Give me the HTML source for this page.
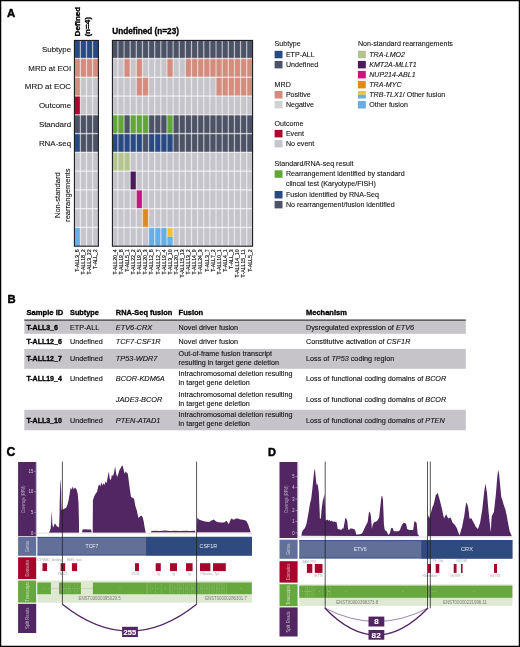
<!DOCTYPE html>
<html><head><meta charset="utf-8"><title>Figure</title>
<style>html,body{margin:0;padding:0;background:#fff;width:520px;height:647px;overflow:hidden;position:relative;font-family:'Liberation Sans', sans-serif}</style>
</head><body>
<svg width="520" height="647" viewBox="0 0 520 647" style="position:absolute;left:0;top:0;font-family:'Liberation Sans', sans-serif;will-change:transform">
<style>.k{fill:#141414;stroke:#141414;stroke-width:0.1px}.kb{fill:#111;stroke:#111;stroke-width:0.12px}.L{fill:#000;stroke:#000;stroke-width:0.45px}.ks{fill:#1a1a1a;stroke:#1a1a1a;stroke-width:0.18px}.bb{fill:#000;stroke:#000;stroke-width:0.32px}</style>
<rect x="0" y="0" width="520" height="647" fill="#fff"/>
<rect x="74.40" y="40.40" width="6.00" height="18.10" fill="#294983"/>
<rect x="74.40" y="58.50" width="6.00" height="18.77" fill="#d38c7e"/>
<rect x="74.40" y="77.27" width="6.00" height="18.77" fill="#d38c7e"/>
<rect x="74.40" y="96.04" width="6.00" height="18.77" fill="#ad0632"/>
<rect x="74.40" y="114.81" width="6.00" height="18.77" fill="#4d5366"/>
<rect x="74.40" y="133.58" width="6.00" height="18.77" fill="#294983"/>
<rect x="74.40" y="152.35" width="6.00" height="18.77" fill="#c6c5cb"/>
<rect x="74.40" y="171.12" width="6.00" height="18.77" fill="#c6c5cb"/>
<rect x="74.40" y="189.89" width="6.00" height="18.77" fill="#c6c5cb"/>
<rect x="74.40" y="208.66" width="6.00" height="18.77" fill="#c6c5cb"/>
<rect x="74.40" y="227.43" width="6.00" height="18.77" fill="#68aee2"/>
<rect x="80.40" y="40.40" width="6.10" height="18.10" fill="#294983"/>
<rect x="80.40" y="58.50" width="6.10" height="18.77" fill="#d38c7e"/>
<rect x="80.40" y="77.27" width="6.10" height="18.77" fill="#c6c5cb"/>
<rect x="80.40" y="96.04" width="6.10" height="18.77" fill="#c6c5cb"/>
<rect x="80.40" y="114.81" width="6.10" height="18.77" fill="#4d5366"/>
<rect x="80.40" y="133.58" width="6.10" height="18.77" fill="#4d5366"/>
<rect x="80.40" y="152.35" width="6.10" height="18.77" fill="#c6c5cb"/>
<rect x="80.40" y="171.12" width="6.10" height="18.77" fill="#c6c5cb"/>
<rect x="80.40" y="189.89" width="6.10" height="18.77" fill="#c6c5cb"/>
<rect x="80.40" y="208.66" width="6.10" height="18.77" fill="#c6c5cb"/>
<rect x="80.40" y="227.43" width="6.10" height="18.77" fill="#c6c5cb"/>
<rect x="86.50" y="40.40" width="6.10" height="18.10" fill="#294983"/>
<rect x="86.50" y="58.50" width="6.10" height="18.77" fill="#d38c7e"/>
<rect x="86.50" y="77.27" width="6.10" height="18.77" fill="#c6c5cb"/>
<rect x="86.50" y="96.04" width="6.10" height="18.77" fill="#c6c5cb"/>
<rect x="86.50" y="114.81" width="6.10" height="18.77" fill="#4d5366"/>
<rect x="86.50" y="133.58" width="6.10" height="18.77" fill="#4d5366"/>
<rect x="86.50" y="152.35" width="6.10" height="18.77" fill="#c6c5cb"/>
<rect x="86.50" y="171.12" width="6.10" height="18.77" fill="#c6c5cb"/>
<rect x="86.50" y="189.89" width="6.10" height="18.77" fill="#c6c5cb"/>
<rect x="86.50" y="208.66" width="6.10" height="18.77" fill="#c6c5cb"/>
<rect x="86.50" y="227.43" width="6.10" height="18.77" fill="#c6c5cb"/>
<rect x="92.60" y="40.40" width="5.80" height="18.10" fill="#294983"/>
<rect x="92.60" y="58.50" width="5.80" height="18.77" fill="#d38c7e"/>
<rect x="92.60" y="77.27" width="5.80" height="18.77" fill="#c6c5cb"/>
<rect x="92.60" y="96.04" width="5.80" height="18.77" fill="#c6c5cb"/>
<rect x="92.60" y="114.81" width="5.80" height="18.77" fill="#4d5366"/>
<rect x="92.60" y="133.58" width="5.80" height="18.77" fill="#4d5366"/>
<rect x="92.60" y="152.35" width="5.80" height="18.77" fill="#c6c5cb"/>
<rect x="92.60" y="171.12" width="5.80" height="18.77" fill="#c6c5cb"/>
<rect x="92.60" y="189.89" width="5.80" height="18.77" fill="#c6c5cb"/>
<rect x="92.60" y="208.66" width="5.80" height="18.77" fill="#c6c5cb"/>
<rect x="92.60" y="227.43" width="5.80" height="18.77" fill="#c6c5cb"/>
<rect x="79.75" y="40.4" width="1.3" height="205.80" fill="#fff" opacity="0.5"/>
<rect x="85.85" y="40.4" width="1.3" height="205.80" fill="#fff" opacity="0.5"/>
<rect x="91.95" y="40.4" width="1.3" height="205.80" fill="#fff" opacity="0.5"/>
<rect x="74.40" y="57.80" width="24.00" height="1.4" fill="#fff" opacity="0.6"/>
<rect x="74.40" y="76.57" width="24.00" height="1.4" fill="#fff" opacity="0.6"/>
<rect x="74.40" y="95.34" width="24.00" height="1.4" fill="#fff" opacity="0.6"/>
<rect x="74.40" y="114.11" width="24.00" height="1.4" fill="#fff" opacity="0.6"/>
<rect x="74.40" y="132.88" width="24.00" height="1.4" fill="#fff" opacity="0.6"/>
<rect x="74.40" y="151.65" width="24.00" height="1.4" fill="#fff" opacity="0.6"/>
<rect x="74.40" y="170.42" width="24.00" height="1.4" fill="#fff" opacity="0.6"/>
<rect x="74.40" y="189.19" width="24.00" height="1.4" fill="#fff" opacity="0.6"/>
<rect x="74.40" y="207.96" width="24.00" height="1.4" fill="#fff" opacity="0.6"/>
<rect x="74.40" y="226.73" width="24.00" height="1.4" fill="#fff" opacity="0.6"/>
<rect x="74.40" y="40.40" width="24.00" height="205.80" fill="none" stroke="#16161a" stroke-width="1.05"/>
<rect x="112.40" y="40.40" width="5.50" height="18.10" fill="#4d5366"/>
<rect x="112.40" y="58.50" width="5.50" height="18.77" fill="#c6c5cb"/>
<rect x="112.40" y="77.27" width="5.50" height="18.77" fill="#c6c5cb"/>
<rect x="112.40" y="96.04" width="5.50" height="18.77" fill="#c6c5cb"/>
<rect x="112.40" y="114.81" width="5.50" height="18.77" fill="#62a63a"/>
<rect x="112.40" y="133.58" width="5.50" height="18.77" fill="#294983"/>
<rect x="112.40" y="152.35" width="5.50" height="18.77" fill="#b4c48f"/>
<rect x="112.40" y="171.12" width="5.50" height="18.77" fill="#c6c5cb"/>
<rect x="112.40" y="189.89" width="5.50" height="18.77" fill="#c6c5cb"/>
<rect x="112.40" y="208.66" width="5.50" height="18.77" fill="#c6c5cb"/>
<rect x="112.40" y="227.43" width="5.50" height="18.77" fill="#c6c5cb"/>
<rect x="117.90" y="40.40" width="6.13" height="18.10" fill="#4d5366"/>
<rect x="117.90" y="58.50" width="6.13" height="18.77" fill="#c6c5cb"/>
<rect x="117.90" y="77.27" width="6.13" height="18.77" fill="#c6c5cb"/>
<rect x="117.90" y="96.04" width="6.13" height="18.77" fill="#c6c5cb"/>
<rect x="117.90" y="114.81" width="6.13" height="18.77" fill="#62a63a"/>
<rect x="117.90" y="133.58" width="6.13" height="18.77" fill="#294983"/>
<rect x="117.90" y="152.35" width="6.13" height="18.77" fill="#b4c48f"/>
<rect x="117.90" y="171.12" width="6.13" height="18.77" fill="#c6c5cb"/>
<rect x="117.90" y="189.89" width="6.13" height="18.77" fill="#c6c5cb"/>
<rect x="117.90" y="208.66" width="6.13" height="18.77" fill="#c6c5cb"/>
<rect x="117.90" y="227.43" width="6.13" height="18.77" fill="#c6c5cb"/>
<rect x="124.04" y="40.40" width="6.13" height="18.10" fill="#4d5366"/>
<rect x="124.04" y="58.50" width="6.13" height="18.77" fill="#d38c7e"/>
<rect x="124.04" y="77.27" width="6.13" height="18.77" fill="#c6c5cb"/>
<rect x="124.04" y="96.04" width="6.13" height="18.77" fill="#c6c5cb"/>
<rect x="124.04" y="114.81" width="6.13" height="18.77" fill="#4d5366"/>
<rect x="124.04" y="133.58" width="6.13" height="18.77" fill="#294983"/>
<rect x="124.04" y="152.35" width="6.13" height="18.77" fill="#b4c48f"/>
<rect x="124.04" y="171.12" width="6.13" height="18.77" fill="#c6c5cb"/>
<rect x="124.04" y="189.89" width="6.13" height="18.77" fill="#c6c5cb"/>
<rect x="124.04" y="208.66" width="6.13" height="18.77" fill="#c6c5cb"/>
<rect x="124.04" y="227.43" width="6.13" height="18.77" fill="#c6c5cb"/>
<rect x="130.17" y="40.40" width="6.13" height="18.10" fill="#4d5366"/>
<rect x="130.17" y="58.50" width="6.13" height="18.77" fill="#c6c5cb"/>
<rect x="130.17" y="77.27" width="6.13" height="18.77" fill="#c6c5cb"/>
<rect x="130.17" y="96.04" width="6.13" height="18.77" fill="#c6c5cb"/>
<rect x="130.17" y="114.81" width="6.13" height="18.77" fill="#62a63a"/>
<rect x="130.17" y="133.58" width="6.13" height="18.77" fill="#294983"/>
<rect x="130.17" y="152.35" width="6.13" height="18.77" fill="#c6c5cb"/>
<rect x="130.17" y="171.12" width="6.13" height="18.77" fill="#4a1a5d"/>
<rect x="130.17" y="189.89" width="6.13" height="18.77" fill="#c6c5cb"/>
<rect x="130.17" y="208.66" width="6.13" height="18.77" fill="#c6c5cb"/>
<rect x="130.17" y="227.43" width="6.13" height="18.77" fill="#c6c5cb"/>
<rect x="136.30" y="40.40" width="6.13" height="18.10" fill="#4d5366"/>
<rect x="136.30" y="58.50" width="6.13" height="18.77" fill="#d38c7e"/>
<rect x="136.30" y="77.27" width="6.13" height="18.77" fill="#d38c7e"/>
<rect x="136.30" y="96.04" width="6.13" height="18.77" fill="#c6c5cb"/>
<rect x="136.30" y="114.81" width="6.13" height="18.77" fill="#62a63a"/>
<rect x="136.30" y="133.58" width="6.13" height="18.77" fill="#294983"/>
<rect x="136.30" y="152.35" width="6.13" height="18.77" fill="#c6c5cb"/>
<rect x="136.30" y="171.12" width="6.13" height="18.77" fill="#c6c5cb"/>
<rect x="136.30" y="189.89" width="6.13" height="18.77" fill="#c8157f"/>
<rect x="136.30" y="208.66" width="6.13" height="18.77" fill="#c6c5cb"/>
<rect x="136.30" y="227.43" width="6.13" height="18.77" fill="#c6c5cb"/>
<rect x="142.44" y="40.40" width="6.13" height="18.10" fill="#4d5366"/>
<rect x="142.44" y="58.50" width="6.13" height="18.77" fill="#c6c5cb"/>
<rect x="142.44" y="77.27" width="6.13" height="18.77" fill="#d38c7e"/>
<rect x="142.44" y="96.04" width="6.13" height="18.77" fill="#c6c5cb"/>
<rect x="142.44" y="114.81" width="6.13" height="18.77" fill="#62a63a"/>
<rect x="142.44" y="133.58" width="6.13" height="18.77" fill="#4d5366"/>
<rect x="142.44" y="152.35" width="6.13" height="18.77" fill="#c6c5cb"/>
<rect x="142.44" y="171.12" width="6.13" height="18.77" fill="#c6c5cb"/>
<rect x="142.44" y="189.89" width="6.13" height="18.77" fill="#c6c5cb"/>
<rect x="142.44" y="208.66" width="6.13" height="18.77" fill="#e0891d"/>
<rect x="142.44" y="227.43" width="6.13" height="18.77" fill="#c6c5cb"/>
<rect x="148.57" y="40.40" width="6.13" height="18.10" fill="#4d5366"/>
<rect x="148.57" y="58.50" width="6.13" height="18.77" fill="#c6c5cb"/>
<rect x="148.57" y="77.27" width="6.13" height="18.77" fill="#c6c5cb"/>
<rect x="148.57" y="96.04" width="6.13" height="18.77" fill="#c6c5cb"/>
<rect x="148.57" y="114.81" width="6.13" height="18.77" fill="#4d5366"/>
<rect x="148.57" y="133.58" width="6.13" height="18.77" fill="#294983"/>
<rect x="148.57" y="152.35" width="6.13" height="18.77" fill="#c6c5cb"/>
<rect x="148.57" y="171.12" width="6.13" height="18.77" fill="#c6c5cb"/>
<rect x="148.57" y="189.89" width="6.13" height="18.77" fill="#c6c5cb"/>
<rect x="148.57" y="208.66" width="6.13" height="18.77" fill="#c6c5cb"/>
<rect x="148.57" y="227.43" width="6.13" height="18.77" fill="#68aee2"/>
<rect x="154.70" y="40.40" width="6.13" height="18.10" fill="#4d5366"/>
<rect x="154.70" y="58.50" width="6.13" height="18.77" fill="#c6c5cb"/>
<rect x="154.70" y="77.27" width="6.13" height="18.77" fill="#c6c5cb"/>
<rect x="154.70" y="96.04" width="6.13" height="18.77" fill="#c6c5cb"/>
<rect x="154.70" y="114.81" width="6.13" height="18.77" fill="#4d5366"/>
<rect x="154.70" y="133.58" width="6.13" height="18.77" fill="#294983"/>
<rect x="154.70" y="152.35" width="6.13" height="18.77" fill="#c6c5cb"/>
<rect x="154.70" y="171.12" width="6.13" height="18.77" fill="#c6c5cb"/>
<rect x="154.70" y="189.89" width="6.13" height="18.77" fill="#c6c5cb"/>
<rect x="154.70" y="208.66" width="6.13" height="18.77" fill="#c6c5cb"/>
<rect x="154.70" y="227.43" width="6.13" height="18.77" fill="#68aee2"/>
<rect x="160.83" y="40.40" width="6.13" height="18.10" fill="#4d5366"/>
<rect x="160.83" y="58.50" width="6.13" height="18.77" fill="#c6c5cb"/>
<rect x="160.83" y="77.27" width="6.13" height="18.77" fill="#c6c5cb"/>
<rect x="160.83" y="96.04" width="6.13" height="18.77" fill="#c6c5cb"/>
<rect x="160.83" y="114.81" width="6.13" height="18.77" fill="#4d5366"/>
<rect x="160.83" y="133.58" width="6.13" height="18.77" fill="#294983"/>
<rect x="160.83" y="152.35" width="6.13" height="18.77" fill="#c6c5cb"/>
<rect x="160.83" y="171.12" width="6.13" height="18.77" fill="#c6c5cb"/>
<rect x="160.83" y="189.89" width="6.13" height="18.77" fill="#c6c5cb"/>
<rect x="160.83" y="208.66" width="6.13" height="18.77" fill="#c6c5cb"/>
<rect x="160.83" y="227.43" width="6.13" height="18.77" fill="#68aee2"/>
<rect x="166.97" y="40.40" width="6.13" height="18.10" fill="#4d5366"/>
<rect x="166.97" y="58.50" width="6.13" height="18.77" fill="#d38c7e"/>
<rect x="166.97" y="77.27" width="6.13" height="18.77" fill="#c6c5cb"/>
<rect x="166.97" y="96.04" width="6.13" height="18.77" fill="#c6c5cb"/>
<rect x="166.97" y="114.81" width="6.13" height="18.77" fill="#62a63a"/>
<rect x="166.97" y="133.58" width="6.13" height="18.77" fill="#294983"/>
<rect x="166.97" y="152.35" width="6.13" height="18.77" fill="#c6c5cb"/>
<rect x="166.97" y="171.12" width="6.13" height="18.77" fill="#c6c5cb"/>
<rect x="166.97" y="189.89" width="6.13" height="18.77" fill="#c6c5cb"/>
<rect x="166.97" y="208.66" width="6.13" height="18.77" fill="#c6c5cb"/>
<rect x="166.97" y="227.43" width="6.13" height="9.38" fill="#f0c232"/>
<rect x="166.97" y="236.81" width="6.13" height="9.38" fill="#68aee2"/>
<rect x="173.10" y="40.40" width="6.13" height="18.10" fill="#4d5366"/>
<rect x="173.10" y="58.50" width="6.13" height="18.77" fill="#c6c5cb"/>
<rect x="173.10" y="77.27" width="6.13" height="18.77" fill="#c6c5cb"/>
<rect x="173.10" y="96.04" width="6.13" height="18.77" fill="#c6c5cb"/>
<rect x="173.10" y="114.81" width="6.13" height="18.77" fill="#4d5366"/>
<rect x="173.10" y="133.58" width="6.13" height="18.77" fill="#4d5366"/>
<rect x="173.10" y="152.35" width="6.13" height="18.77" fill="#c6c5cb"/>
<rect x="173.10" y="171.12" width="6.13" height="18.77" fill="#c6c5cb"/>
<rect x="173.10" y="189.89" width="6.13" height="18.77" fill="#c6c5cb"/>
<rect x="173.10" y="208.66" width="6.13" height="18.77" fill="#c6c5cb"/>
<rect x="173.10" y="227.43" width="6.13" height="18.77" fill="#c6c5cb"/>
<rect x="179.23" y="40.40" width="6.13" height="18.10" fill="#4d5366"/>
<rect x="179.23" y="58.50" width="6.13" height="18.77" fill="#c6c5cb"/>
<rect x="179.23" y="77.27" width="6.13" height="18.77" fill="#c6c5cb"/>
<rect x="179.23" y="96.04" width="6.13" height="18.77" fill="#c6c5cb"/>
<rect x="179.23" y="114.81" width="6.13" height="18.77" fill="#4d5366"/>
<rect x="179.23" y="133.58" width="6.13" height="18.77" fill="#4d5366"/>
<rect x="179.23" y="152.35" width="6.13" height="18.77" fill="#c6c5cb"/>
<rect x="179.23" y="171.12" width="6.13" height="18.77" fill="#c6c5cb"/>
<rect x="179.23" y="189.89" width="6.13" height="18.77" fill="#c6c5cb"/>
<rect x="179.23" y="208.66" width="6.13" height="18.77" fill="#c6c5cb"/>
<rect x="179.23" y="227.43" width="6.13" height="18.77" fill="#c6c5cb"/>
<rect x="185.37" y="40.40" width="6.13" height="18.10" fill="#4d5366"/>
<rect x="185.37" y="58.50" width="6.13" height="18.77" fill="#d38c7e"/>
<rect x="185.37" y="77.27" width="6.13" height="18.77" fill="#c6c5cb"/>
<rect x="185.37" y="96.04" width="6.13" height="18.77" fill="#c6c5cb"/>
<rect x="185.37" y="114.81" width="6.13" height="18.77" fill="#4d5366"/>
<rect x="185.37" y="133.58" width="6.13" height="18.77" fill="#4d5366"/>
<rect x="185.37" y="152.35" width="6.13" height="18.77" fill="#c6c5cb"/>
<rect x="185.37" y="171.12" width="6.13" height="18.77" fill="#c6c5cb"/>
<rect x="185.37" y="189.89" width="6.13" height="18.77" fill="#c6c5cb"/>
<rect x="185.37" y="208.66" width="6.13" height="18.77" fill="#c6c5cb"/>
<rect x="185.37" y="227.43" width="6.13" height="18.77" fill="#c6c5cb"/>
<rect x="191.50" y="40.40" width="6.13" height="18.10" fill="#4d5366"/>
<rect x="191.50" y="58.50" width="6.13" height="18.77" fill="#d38c7e"/>
<rect x="191.50" y="77.27" width="6.13" height="18.77" fill="#c6c5cb"/>
<rect x="191.50" y="96.04" width="6.13" height="18.77" fill="#c6c5cb"/>
<rect x="191.50" y="114.81" width="6.13" height="18.77" fill="#4d5366"/>
<rect x="191.50" y="133.58" width="6.13" height="18.77" fill="#4d5366"/>
<rect x="191.50" y="152.35" width="6.13" height="18.77" fill="#c6c5cb"/>
<rect x="191.50" y="171.12" width="6.13" height="18.77" fill="#c6c5cb"/>
<rect x="191.50" y="189.89" width="6.13" height="18.77" fill="#c6c5cb"/>
<rect x="191.50" y="208.66" width="6.13" height="18.77" fill="#c6c5cb"/>
<rect x="191.50" y="227.43" width="6.13" height="18.77" fill="#c6c5cb"/>
<rect x="197.63" y="40.40" width="6.13" height="18.10" fill="#4d5366"/>
<rect x="197.63" y="58.50" width="6.13" height="18.77" fill="#d38c7e"/>
<rect x="197.63" y="77.27" width="6.13" height="18.77" fill="#c6c5cb"/>
<rect x="197.63" y="96.04" width="6.13" height="18.77" fill="#c6c5cb"/>
<rect x="197.63" y="114.81" width="6.13" height="18.77" fill="#4d5366"/>
<rect x="197.63" y="133.58" width="6.13" height="18.77" fill="#4d5366"/>
<rect x="197.63" y="152.35" width="6.13" height="18.77" fill="#c6c5cb"/>
<rect x="197.63" y="171.12" width="6.13" height="18.77" fill="#c6c5cb"/>
<rect x="197.63" y="189.89" width="6.13" height="18.77" fill="#c6c5cb"/>
<rect x="197.63" y="208.66" width="6.13" height="18.77" fill="#c6c5cb"/>
<rect x="197.63" y="227.43" width="6.13" height="18.77" fill="#c6c5cb"/>
<rect x="203.77" y="40.40" width="6.13" height="18.10" fill="#4d5366"/>
<rect x="203.77" y="58.50" width="6.13" height="18.77" fill="#d38c7e"/>
<rect x="203.77" y="77.27" width="6.13" height="18.77" fill="#c6c5cb"/>
<rect x="203.77" y="96.04" width="6.13" height="18.77" fill="#c6c5cb"/>
<rect x="203.77" y="114.81" width="6.13" height="18.77" fill="#4d5366"/>
<rect x="203.77" y="133.58" width="6.13" height="18.77" fill="#4d5366"/>
<rect x="203.77" y="152.35" width="6.13" height="18.77" fill="#c6c5cb"/>
<rect x="203.77" y="171.12" width="6.13" height="18.77" fill="#c6c5cb"/>
<rect x="203.77" y="189.89" width="6.13" height="18.77" fill="#c6c5cb"/>
<rect x="203.77" y="208.66" width="6.13" height="18.77" fill="#c6c5cb"/>
<rect x="203.77" y="227.43" width="6.13" height="18.77" fill="#c6c5cb"/>
<rect x="209.90" y="40.40" width="6.13" height="18.10" fill="#4d5366"/>
<rect x="209.90" y="58.50" width="6.13" height="18.77" fill="#d38c7e"/>
<rect x="209.90" y="77.27" width="6.13" height="18.77" fill="#c6c5cb"/>
<rect x="209.90" y="96.04" width="6.13" height="18.77" fill="#c6c5cb"/>
<rect x="209.90" y="114.81" width="6.13" height="18.77" fill="#4d5366"/>
<rect x="209.90" y="133.58" width="6.13" height="18.77" fill="#4d5366"/>
<rect x="209.90" y="152.35" width="6.13" height="18.77" fill="#c6c5cb"/>
<rect x="209.90" y="171.12" width="6.13" height="18.77" fill="#c6c5cb"/>
<rect x="209.90" y="189.89" width="6.13" height="18.77" fill="#c6c5cb"/>
<rect x="209.90" y="208.66" width="6.13" height="18.77" fill="#c6c5cb"/>
<rect x="209.90" y="227.43" width="6.13" height="18.77" fill="#c6c5cb"/>
<rect x="216.03" y="40.40" width="6.13" height="18.10" fill="#4d5366"/>
<rect x="216.03" y="58.50" width="6.13" height="18.77" fill="#d38c7e"/>
<rect x="216.03" y="77.27" width="6.13" height="18.77" fill="#d38c7e"/>
<rect x="216.03" y="96.04" width="6.13" height="18.77" fill="#c6c5cb"/>
<rect x="216.03" y="114.81" width="6.13" height="18.77" fill="#4d5366"/>
<rect x="216.03" y="133.58" width="6.13" height="18.77" fill="#4d5366"/>
<rect x="216.03" y="152.35" width="6.13" height="18.77" fill="#c6c5cb"/>
<rect x="216.03" y="171.12" width="6.13" height="18.77" fill="#c6c5cb"/>
<rect x="216.03" y="189.89" width="6.13" height="18.77" fill="#c6c5cb"/>
<rect x="216.03" y="208.66" width="6.13" height="18.77" fill="#c6c5cb"/>
<rect x="216.03" y="227.43" width="6.13" height="18.77" fill="#c6c5cb"/>
<rect x="222.16" y="40.40" width="6.13" height="18.10" fill="#4d5366"/>
<rect x="222.16" y="58.50" width="6.13" height="18.77" fill="#d38c7e"/>
<rect x="222.16" y="77.27" width="6.13" height="18.77" fill="#d38c7e"/>
<rect x="222.16" y="96.04" width="6.13" height="18.77" fill="#c6c5cb"/>
<rect x="222.16" y="114.81" width="6.13" height="18.77" fill="#4d5366"/>
<rect x="222.16" y="133.58" width="6.13" height="18.77" fill="#4d5366"/>
<rect x="222.16" y="152.35" width="6.13" height="18.77" fill="#c6c5cb"/>
<rect x="222.16" y="171.12" width="6.13" height="18.77" fill="#c6c5cb"/>
<rect x="222.16" y="189.89" width="6.13" height="18.77" fill="#c6c5cb"/>
<rect x="222.16" y="208.66" width="6.13" height="18.77" fill="#c6c5cb"/>
<rect x="222.16" y="227.43" width="6.13" height="18.77" fill="#c6c5cb"/>
<rect x="228.30" y="40.40" width="6.13" height="18.10" fill="#4d5366"/>
<rect x="228.30" y="58.50" width="6.13" height="18.77" fill="#d38c7e"/>
<rect x="228.30" y="77.27" width="6.13" height="18.77" fill="#d38c7e"/>
<rect x="228.30" y="96.04" width="6.13" height="18.77" fill="#c6c5cb"/>
<rect x="228.30" y="114.81" width="6.13" height="18.77" fill="#4d5366"/>
<rect x="228.30" y="133.58" width="6.13" height="18.77" fill="#4d5366"/>
<rect x="228.30" y="152.35" width="6.13" height="18.77" fill="#c6c5cb"/>
<rect x="228.30" y="171.12" width="6.13" height="18.77" fill="#c6c5cb"/>
<rect x="228.30" y="189.89" width="6.13" height="18.77" fill="#c6c5cb"/>
<rect x="228.30" y="208.66" width="6.13" height="18.77" fill="#c6c5cb"/>
<rect x="228.30" y="227.43" width="6.13" height="18.77" fill="#c6c5cb"/>
<rect x="234.43" y="40.40" width="6.13" height="18.10" fill="#4d5366"/>
<rect x="234.43" y="58.50" width="6.13" height="18.77" fill="#d38c7e"/>
<rect x="234.43" y="77.27" width="6.13" height="18.77" fill="#d38c7e"/>
<rect x="234.43" y="96.04" width="6.13" height="18.77" fill="#c6c5cb"/>
<rect x="234.43" y="114.81" width="6.13" height="18.77" fill="#4d5366"/>
<rect x="234.43" y="133.58" width="6.13" height="18.77" fill="#4d5366"/>
<rect x="234.43" y="152.35" width="6.13" height="18.77" fill="#c6c5cb"/>
<rect x="234.43" y="171.12" width="6.13" height="18.77" fill="#c6c5cb"/>
<rect x="234.43" y="189.89" width="6.13" height="18.77" fill="#c6c5cb"/>
<rect x="234.43" y="208.66" width="6.13" height="18.77" fill="#c6c5cb"/>
<rect x="234.43" y="227.43" width="6.13" height="18.77" fill="#c6c5cb"/>
<rect x="240.56" y="40.40" width="6.13" height="18.10" fill="#4d5366"/>
<rect x="240.56" y="58.50" width="6.13" height="18.77" fill="#d38c7e"/>
<rect x="240.56" y="77.27" width="6.13" height="18.77" fill="#d38c7e"/>
<rect x="240.56" y="96.04" width="6.13" height="18.77" fill="#c6c5cb"/>
<rect x="240.56" y="114.81" width="6.13" height="18.77" fill="#4d5366"/>
<rect x="240.56" y="133.58" width="6.13" height="18.77" fill="#4d5366"/>
<rect x="240.56" y="152.35" width="6.13" height="18.77" fill="#c6c5cb"/>
<rect x="240.56" y="171.12" width="6.13" height="18.77" fill="#c6c5cb"/>
<rect x="240.56" y="189.89" width="6.13" height="18.77" fill="#c6c5cb"/>
<rect x="240.56" y="208.66" width="6.13" height="18.77" fill="#c6c5cb"/>
<rect x="240.56" y="227.43" width="6.13" height="18.77" fill="#c6c5cb"/>
<rect x="246.70" y="40.40" width="5.90" height="18.10" fill="#4d5366"/>
<rect x="246.70" y="58.50" width="5.90" height="18.77" fill="#d38c7e"/>
<rect x="246.70" y="77.27" width="5.90" height="18.77" fill="#d38c7e"/>
<rect x="246.70" y="96.04" width="5.90" height="18.77" fill="#c6c5cb"/>
<rect x="246.70" y="114.81" width="5.90" height="18.77" fill="#4d5366"/>
<rect x="246.70" y="133.58" width="5.90" height="18.77" fill="#4d5366"/>
<rect x="246.70" y="152.35" width="5.90" height="18.77" fill="#c6c5cb"/>
<rect x="246.70" y="171.12" width="5.90" height="18.77" fill="#c6c5cb"/>
<rect x="246.70" y="189.89" width="5.90" height="18.77" fill="#c6c5cb"/>
<rect x="246.70" y="208.66" width="5.90" height="18.77" fill="#c6c5cb"/>
<rect x="246.70" y="227.43" width="5.90" height="18.77" fill="#c6c5cb"/>
<rect x="117.25" y="40.4" width="1.3" height="205.80" fill="#fff" opacity="0.5"/>
<rect x="123.39" y="40.4" width="1.3" height="205.80" fill="#fff" opacity="0.5"/>
<rect x="129.52" y="40.4" width="1.3" height="205.80" fill="#fff" opacity="0.5"/>
<rect x="135.65" y="40.4" width="1.3" height="205.80" fill="#fff" opacity="0.5"/>
<rect x="141.79" y="40.4" width="1.3" height="205.80" fill="#fff" opacity="0.5"/>
<rect x="147.92" y="40.4" width="1.3" height="205.80" fill="#fff" opacity="0.5"/>
<rect x="154.05" y="40.4" width="1.3" height="205.80" fill="#fff" opacity="0.5"/>
<rect x="160.18" y="40.4" width="1.3" height="205.80" fill="#fff" opacity="0.5"/>
<rect x="166.32" y="40.4" width="1.3" height="205.80" fill="#fff" opacity="0.5"/>
<rect x="172.45" y="40.4" width="1.3" height="205.80" fill="#fff" opacity="0.5"/>
<rect x="178.58" y="40.4" width="1.3" height="205.80" fill="#fff" opacity="0.5"/>
<rect x="184.72" y="40.4" width="1.3" height="205.80" fill="#fff" opacity="0.5"/>
<rect x="190.85" y="40.4" width="1.3" height="205.80" fill="#fff" opacity="0.5"/>
<rect x="196.98" y="40.4" width="1.3" height="205.80" fill="#fff" opacity="0.5"/>
<rect x="203.12" y="40.4" width="1.3" height="205.80" fill="#fff" opacity="0.5"/>
<rect x="209.25" y="40.4" width="1.3" height="205.80" fill="#fff" opacity="0.5"/>
<rect x="215.38" y="40.4" width="1.3" height="205.80" fill="#fff" opacity="0.5"/>
<rect x="221.51" y="40.4" width="1.3" height="205.80" fill="#fff" opacity="0.5"/>
<rect x="227.65" y="40.4" width="1.3" height="205.80" fill="#fff" opacity="0.5"/>
<rect x="233.78" y="40.4" width="1.3" height="205.80" fill="#fff" opacity="0.5"/>
<rect x="239.91" y="40.4" width="1.3" height="205.80" fill="#fff" opacity="0.5"/>
<rect x="246.05" y="40.4" width="1.3" height="205.80" fill="#fff" opacity="0.5"/>
<rect x="112.40" y="57.80" width="140.20" height="1.4" fill="#fff" opacity="0.6"/>
<rect x="112.40" y="76.57" width="140.20" height="1.4" fill="#fff" opacity="0.6"/>
<rect x="112.40" y="95.34" width="140.20" height="1.4" fill="#fff" opacity="0.6"/>
<rect x="112.40" y="114.11" width="140.20" height="1.4" fill="#fff" opacity="0.6"/>
<rect x="112.40" y="132.88" width="140.20" height="1.4" fill="#fff" opacity="0.6"/>
<rect x="112.40" y="151.65" width="140.20" height="1.4" fill="#fff" opacity="0.6"/>
<rect x="112.40" y="170.42" width="140.20" height="1.4" fill="#fff" opacity="0.6"/>
<rect x="112.40" y="189.19" width="140.20" height="1.4" fill="#fff" opacity="0.6"/>
<rect x="112.40" y="207.96" width="140.20" height="1.4" fill="#fff" opacity="0.6"/>
<rect x="112.40" y="226.73" width="140.20" height="1.4" fill="#fff" opacity="0.6"/>
<rect x="112.40" y="40.40" width="140.20" height="205.80" fill="none" stroke="#16161a" stroke-width="1.05"/>
<text x="71.1" y="51.90" font-size="7.95" text-anchor="end" class="k">Subtype</text>
<text x="71.1" y="70.70" font-size="7.95" text-anchor="end" class="k">MRD at EOI</text>
<text x="71.1" y="89.40" font-size="7.95" text-anchor="end" class="k">MRD at EOC</text>
<text x="71.1" y="108.40" font-size="7.95" text-anchor="end" class="k">Outcome</text>
<text x="71.1" y="127.00" font-size="7.95" text-anchor="end" class="k">Standard</text>
<text x="71.1" y="145.70" font-size="7.95" text-anchor="end" class="k">RNA-seq</text>
<text transform="translate(59.8,195.2) rotate(-90)" font-size="8.0" text-anchor="middle" class="k" textLength="45.6" lengthAdjust="spacingAndGlyphs">Non-standard</text>
<text transform="translate(69.9,195.2) rotate(-90)" font-size="8.0" text-anchor="middle" class="k" textLength="53.4" lengthAdjust="spacingAndGlyphs">rearrangements</text>
<text transform="translate(80.3,36.4) rotate(-90)" font-size="8.1" font-weight="bold" class="bb">Defined</text>
<text transform="translate(89.5,36.6) rotate(-90)" font-size="8.1" font-weight="bold" class="bb">(n=4)</text>
<text x="112.3" y="34.4" font-size="8.2" font-weight="bold" class="bb">Undefined (n=23)</text>
<text transform="translate(79.10,249.4) rotate(-90)" font-size="5.6" text-anchor="end" class="ks" textLength="22.40" lengthAdjust="spacingAndGlyphs">T-ALL3_6</text>
<text transform="translate(85.20,249.4) rotate(-90)" font-size="5.6" text-anchor="end" class="ks" textLength="25.23" lengthAdjust="spacingAndGlyphs">T-ALL18_2</text>
<text transform="translate(91.30,249.4) rotate(-90)" font-size="5.6" text-anchor="end" class="ks" textLength="25.23" lengthAdjust="spacingAndGlyphs">T-ALL3_22</text>
<text transform="translate(97.40,249.4) rotate(-90)" font-size="5.6" text-anchor="end" class="ks" textLength="19.56" lengthAdjust="spacingAndGlyphs">T-ALL_2</text>
<text transform="translate(116.59,249.4) rotate(-90)" font-size="5.6" text-anchor="end" class="ks" textLength="25.23" lengthAdjust="spacingAndGlyphs">T-ALL20_4</text>
<text transform="translate(122.72,249.4) rotate(-90)" font-size="5.6" text-anchor="end" class="ks" textLength="25.23" lengthAdjust="spacingAndGlyphs">T-ALL19_8</text>
<text transform="translate(128.85,249.4) rotate(-90)" font-size="5.6" text-anchor="end" class="ks" textLength="22.40" lengthAdjust="spacingAndGlyphs">T-ALL5_1</text>
<text transform="translate(134.99,249.4) rotate(-90)" font-size="5.6" text-anchor="end" class="ks" textLength="25.23" lengthAdjust="spacingAndGlyphs">T-ALL22_2</text>
<text transform="translate(141.12,249.4) rotate(-90)" font-size="5.6" text-anchor="end" class="ks" textLength="25.23" lengthAdjust="spacingAndGlyphs">T-ALL19_5</text>
<text transform="translate(147.25,249.4) rotate(-90)" font-size="5.6" text-anchor="end" class="ks" textLength="25.23" lengthAdjust="spacingAndGlyphs">T-ALL20_3</text>
<text transform="translate(153.38,249.4) rotate(-90)" font-size="5.6" text-anchor="end" class="ks" textLength="25.23" lengthAdjust="spacingAndGlyphs">T-ALL12_6</text>
<text transform="translate(159.52,249.4) rotate(-90)" font-size="5.6" text-anchor="end" class="ks" textLength="25.23" lengthAdjust="spacingAndGlyphs">T-ALL12_7</text>
<text transform="translate(165.65,249.4) rotate(-90)" font-size="5.6" text-anchor="end" class="ks" textLength="25.23" lengthAdjust="spacingAndGlyphs">T-ALL19_4</text>
<text transform="translate(171.78,249.4) rotate(-90)" font-size="5.6" text-anchor="end" class="ks" textLength="25.23" lengthAdjust="spacingAndGlyphs">T-ALL3_10</text>
<text transform="translate(177.92,249.4) rotate(-90)" font-size="5.6" text-anchor="end" class="ks" textLength="25.23" lengthAdjust="spacingAndGlyphs">T-ALL20_1</text>
<text transform="translate(184.05,249.4) rotate(-90)" font-size="5.6" text-anchor="end" class="ks" textLength="28.07" lengthAdjust="spacingAndGlyphs">T-ALL15_13</text>
<text transform="translate(190.18,249.4) rotate(-90)" font-size="5.6" text-anchor="end" class="ks" textLength="25.23" lengthAdjust="spacingAndGlyphs">T-ALL13_2</text>
<text transform="translate(196.32,249.4) rotate(-90)" font-size="5.6" text-anchor="end" class="ks" textLength="25.23" lengthAdjust="spacingAndGlyphs">T-ALL14_9</text>
<text transform="translate(202.45,249.4) rotate(-90)" font-size="5.6" text-anchor="end" class="ks" textLength="25.23" lengthAdjust="spacingAndGlyphs">T-ALL24_3</text>
<text transform="translate(208.58,249.4) rotate(-90)" font-size="5.6" text-anchor="end" class="ks" textLength="22.40" lengthAdjust="spacingAndGlyphs">T-ALL3_7</text>
<text transform="translate(214.72,249.4) rotate(-90)" font-size="5.6" text-anchor="end" class="ks" textLength="22.40" lengthAdjust="spacingAndGlyphs">T-ALL7_2</text>
<text transform="translate(220.85,249.4) rotate(-90)" font-size="5.6" text-anchor="end" class="ks" textLength="25.23" lengthAdjust="spacingAndGlyphs">T-ALL10_1</text>
<text transform="translate(226.98,249.4) rotate(-90)" font-size="5.6" text-anchor="end" class="ks" textLength="22.40" lengthAdjust="spacingAndGlyphs">T-ALL4_1</text>
<text transform="translate(233.11,249.4) rotate(-90)" font-size="5.6" text-anchor="end" class="ks" textLength="19.56" lengthAdjust="spacingAndGlyphs">T-ALL_3</text>
<text transform="translate(239.25,249.4) rotate(-90)" font-size="5.6" text-anchor="end" class="ks" textLength="28.07" lengthAdjust="spacingAndGlyphs">T-ALL14_10</text>
<text transform="translate(245.38,249.4) rotate(-90)" font-size="5.6" text-anchor="end" class="ks" textLength="28.07" lengthAdjust="spacingAndGlyphs">T-ALL15_11</text>
<text transform="translate(251.51,249.4) rotate(-90)" font-size="5.6" text-anchor="end" class="ks" textLength="22.40" lengthAdjust="spacingAndGlyphs">T-ALL5_2</text>
<text x="6.9" y="16.7" font-size="11.3" font-weight="bold" class="L">A</text>
<text x="7.6" y="302.9" font-size="11.3" font-weight="bold" class="L">B</text>
<text x="6.5" y="456.2" font-size="12.2" font-weight="bold" class="L">C</text>
<text x="267.9" y="455.8" font-size="11" font-weight="bold" class="L">D</text>
<text x="274.6" y="46.1" font-size="7.1" class="k">Subtype</text>
<rect x="274.6" y="50.8" width="7.9" height="7.5" fill="#294983"/>
<text x="285.9" y="56.9" font-size="7.1" class="k">ETP-ALL</text>
<rect x="274.6" y="60.9" width="7.9" height="7.5" fill="#4d5366"/>
<text x="285.9" y="66.9" font-size="7.1" class="k">Undefined</text>
<text x="274.6" y="86.8" font-size="7.1" class="k">MRD</text>
<rect x="274.6" y="91.0" width="7.9" height="7.5" fill="#d38c7e"/>
<text x="285.9" y="97.0" font-size="7.1" class="k">Positive</text>
<rect x="274.6" y="100.9" width="7.9" height="7.5" fill="#d0d2d3"/>
<text x="285.9" y="107.0" font-size="7.1" class="k">Negative</text>
<text x="274.6" y="125.8" font-size="7.1" class="k">Outcome</text>
<rect x="274.6" y="129.9" width="7.9" height="7.5" fill="#ad0632"/>
<text x="285.9" y="136.0" font-size="7.1" class="k">Event</text>
<rect x="274.6" y="139.95" width="7.9" height="7.5" fill="#c6c5cb"/>
<text x="285.9" y="146.1" font-size="7.1" class="k">No event</text>
<text x="274.6" y="165.8" font-size="7.1" class="k">Standard/RNA-seq result</text>
<rect x="274.6" y="170.3" width="7.9" height="7.5" fill="#62a63a"/>
<text x="285.9" y="176.3" font-size="7.1" class="k">Rearrangement identified by standard</text>
<text x="285.9" y="186.1" font-size="7.1" class="k">clincal test (Karyotype/FISH)</text>
<rect x="274.6" y="191.0" width="7.9" height="7.5" fill="#294983"/>
<text x="285.9" y="197.0" font-size="7.1" class="k">Fusion identified by RNA-Seq</text>
<rect x="274.6" y="200.9" width="7.9" height="7.5" fill="#4d5366"/>
<text x="285.9" y="206.6" font-size="7.1" class="k">No rearrangement/fusion identified</text>
<text x="357.9" y="46.1" font-size="7.1" class="k">Non-standard rearrangements</text>
<rect x="357.9" y="50.75" width="7.9" height="7.5" fill="#b4c48f"/>
<text x="369.2" y="56.9" font-size="7.1" font-style="italic" class="k">TRA-LMO2</text>
<rect x="357.9" y="60.9" width="7.9" height="7.5" fill="#4a1a5d"/>
<text x="369.2" y="66.9" font-size="7.1" font-style="italic" class="k">KMT2A-MLLT1</text>
<rect x="357.9" y="70.9" width="7.9" height="7.5" fill="#c8157f"/>
<text x="369.2" y="76.9" font-size="7.1" font-style="italic" class="k">NUP214-ABL1</text>
<rect x="357.9" y="80.9" width="7.9" height="7.5" fill="#e0891d"/>
<text x="369.2" y="86.9" font-size="7.1" font-style="italic" class="k">TRA-MYC</text>
<rect x="357.9" y="91.0" width="7.9" height="3.75" fill="#f0c232"/>
<rect x="357.9" y="94.75" width="7.9" height="3.75" fill="#68aee2"/>
<text x="369.2" y="97.0" font-size="7.1" class="k"><tspan font-style="italic">TRB-TLX1</tspan>/ Other fusion</text>
<rect x="357.9" y="101.0" width="7.9" height="7.5" fill="#68aee2"/>
<text x="369.2" y="107.0" font-size="7.1" class="k">Other fusion</text>
<text x="26.4" y="315.2" font-size="7.5" font-weight="bold" class="bb" textLength="36.9" lengthAdjust="spacingAndGlyphs">Sample ID</text>
<text x="70.0" y="315.2" font-size="7.5" font-weight="bold" class="bb" textLength="28.9" lengthAdjust="spacingAndGlyphs">Subtype</text>
<text x="115.8" y="315.2" font-size="7.5" font-weight="bold" class="bb" textLength="56.5" lengthAdjust="spacingAndGlyphs">RNA-Seq fusion</text>
<text x="178.6" y="315.2" font-size="7.5" font-weight="bold" class="bb">Fusion</text>
<text x="306.0" y="315.2" font-size="7.5" font-weight="bold" class="bb">Mechanism</text>
<rect x="24.3" y="320.9" width="441.5" height="12.90" fill="#c6c4c9"/>
<rect x="24.3" y="348.9" width="441.5" height="19.90" fill="#c6c4c9"/>
<rect x="24.3" y="409.8" width="441.5" height="20.50" fill="#c6c4c9"/>
<rect x="24.3" y="319.4" width="441.5" height="1.5" fill="#505052"/>
<text x="26.4" y="329.50" font-size="7.0" font-weight="bold" class="bb">T-ALL3_6</text>
<text x="70.0" y="329.50" font-size="7.2" class="kb">ETP-ALL</text>
<text x="115.8" y="329.50" font-size="7.35" font-style="italic" class="kb">ETV6-CRX</text>
<text x="178.6" y="329.50" font-size="7.2" class="kb">Novel driver fusion</text>
<text x="306.0" y="329.50" font-size="7.25" class="kb">Dysregulated expression of <tspan font-style="italic">ETV6</tspan></text>
<text x="26.4" y="343.50" font-size="7.0" font-weight="bold" class="bb">T-ALL12_6</text>
<text x="70.0" y="343.50" font-size="7.2" class="kb">Undefined</text>
<text x="115.8" y="343.50" font-size="7.35" font-style="italic" class="kb">TCF7-CSF1R</text>
<text x="178.6" y="343.50" font-size="7.2" class="kb">Novel driver fusion</text>
<text x="306.0" y="343.50" font-size="7.25" class="kb">Constitutive activation of <tspan font-style="italic">CSF1R</tspan></text>
<text x="26.4" y="360.80" font-size="7.0" font-weight="bold" class="bb">T-ALL12_7</text>
<text x="70.0" y="360.80" font-size="7.2" class="kb">Undefined</text>
<text x="115.8" y="360.80" font-size="7.35" font-style="italic" class="kb">TP53-WDR7</text>
<text x="306.0" y="360.80" font-size="7.25" class="kb">Loss of <tspan font-style="italic">TP53</tspan> coding region</text>
<text x="178.6" y="355.80" font-size="7.2" class="kb">Out-of-frame fusion transcript</text>
<text x="178.6" y="365.00" font-size="7.2" class="kb">resulting in target gene deletion</text>
<text x="26.4" y="381.20" font-size="7.0" font-weight="bold" class="bb">T-ALL19_4</text>
<text x="70.0" y="381.20" font-size="7.2" class="kb">Undefined</text>
<text x="115.8" y="381.20" font-size="7.35" font-style="italic" class="kb">BCOR-KDM6A</text>
<text x="306.0" y="381.20" font-size="7.25" class="kb">Loss of functional coding domains of <tspan font-style="italic">BCOR</tspan></text>
<text x="178.6" y="376.10" font-size="7.2" class="kb">Intrachromosomal deletion resulting</text>
<text x="178.6" y="385.30" font-size="7.2" class="kb">in target gene deletion</text>
<text x="115.8" y="401.50" font-size="7.35" font-style="italic" class="kb">JADE3-BCOR</text>
<text x="306.0" y="401.50" font-size="7.25" class="kb">Loss of functional coding domains of <tspan font-style="italic">BCOR</tspan></text>
<text x="178.6" y="396.50" font-size="7.2" class="kb">Intrachromosomal deletion resulting</text>
<text x="178.6" y="405.70" font-size="7.2" class="kb">in target gene deletion</text>
<text x="26.4" y="422.50" font-size="7.0" font-weight="bold" class="bb">T-ALL3_10</text>
<text x="70.0" y="422.50" font-size="7.2" class="kb">Undefined</text>
<text x="115.8" y="422.50" font-size="7.35" font-style="italic" class="kb">PTEN-ATAD1</text>
<text x="306.0" y="422.50" font-size="7.25" class="kb">Loss of functional coding domains of <tspan font-style="italic">PTEN</tspan></text>
<text x="178.6" y="416.80" font-size="7.2" class="kb">Intrachromosomal deletion resulting</text>
<text x="178.6" y="426.00" font-size="7.2" class="kb">in target gene deletion</text>
<rect x="18.1" y="462.0" width="18.10" height="74.20" fill="#512663"/>
<text transform="translate(25.10,499.30) rotate(-90)" font-size="4.5" text-anchor="middle" fill="#fff" fill-opacity="0.62" textLength="27.5" lengthAdjust="spacingAndGlyphs">Coverage (RPM)</text>
<rect x="18.1" y="536.9" width="18.10" height="18.90" fill="#626f99"/>
<text transform="translate(28.65,546.35) rotate(-90)" font-size="4.5" text-anchor="middle" fill="#fff" fill-opacity="0.62" textLength="11.2" lengthAdjust="spacingAndGlyphs">Genes</text>
<rect x="18.1" y="557.3" width="18.10" height="21.80" fill="#a8052d"/>
<text transform="translate(28.65,568.20) rotate(-90)" font-size="4.5" text-anchor="middle" fill="#fff" fill-opacity="0.62" textLength="16.5" lengthAdjust="spacingAndGlyphs">Domains</text>
<rect x="18.1" y="580.5" width="18.10" height="22.10" fill="#66a73e"/>
<text transform="translate(28.65,591.55) rotate(-90)" font-size="4.5" text-anchor="middle" fill="#fff" fill-opacity="0.62" textLength="19.7" lengthAdjust="spacingAndGlyphs">Transcripts</text>
<rect x="18.1" y="603.8" width="18.10" height="29.20" fill="#512663"/>
<text transform="translate(28.65,618.40) rotate(-90)" font-size="4.5" text-anchor="middle" fill="#fff" fill-opacity="0.62" textLength="21.2" lengthAdjust="spacingAndGlyphs">Split Reads</text>
<rect x="279.5" y="462.0" width="18.10" height="76.00" fill="#512663"/>
<text transform="translate(288.00,499.30) rotate(-90)" font-size="4.5" text-anchor="middle" fill="#fff" fill-opacity="0.62" textLength="27.5" lengthAdjust="spacingAndGlyphs">Coverage (RPM)</text>
<rect x="279.5" y="539.7" width="18.10" height="19.10" fill="#626f99"/>
<text transform="translate(290.05,549.25) rotate(-90)" font-size="4.5" text-anchor="middle" fill="#fff" fill-opacity="0.62" textLength="11.2" lengthAdjust="spacingAndGlyphs">Genes</text>
<rect x="279.5" y="561.2" width="18.10" height="21.40" fill="#a8052d"/>
<text transform="translate(290.05,571.90) rotate(-90)" font-size="4.5" text-anchor="middle" fill="#fff" fill-opacity="0.62" textLength="16.5" lengthAdjust="spacingAndGlyphs">Domains</text>
<rect x="279.5" y="584.2" width="18.10" height="22.00" fill="#66a73e"/>
<text transform="translate(290.05,595.20) rotate(-90)" font-size="4.5" text-anchor="middle" fill="#fff" fill-opacity="0.62" textLength="19.7" lengthAdjust="spacingAndGlyphs">Transcripts</text>
<rect x="279.5" y="607.4" width="18.10" height="29.10" fill="#512663"/>
<text transform="translate(290.05,621.95) rotate(-90)" font-size="4.5" text-anchor="middle" fill="#fff" fill-opacity="0.62" textLength="21.2" lengthAdjust="spacingAndGlyphs">Split Reads</text>
<polygon points="48.9,533.0 50.6,528.8 51.2,521.4 51.6,510.8 52.1,518.2 52.3,523.5 53.1,527.7 54.0,525.6 54.8,523.5 55.9,524.5 56.9,526.6 58.0,526.6 59.0,527.7 59.5,515.0 59.7,502.3 60.1,489.6 60.5,479.0 60.9,483.3 61.2,491.7 61.4,502.3 61.6,509.7 62.2,509.7 64.3,508.7 66.4,507.6 67.5,504.4 68.6,500.2 69.6,493.9 70.7,487.5 71.7,489.6 72.8,486.4 73.8,489.6 74.9,487.5 76.0,488.6 77.0,490.7 77.7,493.9 78.5,502.3 78.9,519.2 79.1,533.0" fill="#512663"/>
<polygon points="82.0,532.6 82.6,529.6 85.0,529.2 88.0,529.4 91.0,529.6 91.8,532.6" fill="#512663"/>
<polygon points="92.7,533.0 92.9,500.2 94.0,497.0 95.4,493.9 97.1,491.7 98.2,486.4 99.2,484.3 100.3,486.4 101.3,482.2 102.4,485.4 103.5,483.3 104.5,485.0 105.6,481.2 106.6,483.3 107.7,476.9 108.8,471.6 109.8,479.0 110.9,480.1 111.9,474.8 113.0,475.9 114.0,472.7 115.1,466.4 116.2,473.8 117.2,476.9 118.3,473.8 119.3,470.6 120.4,468.5 121.5,466.4 122.5,465.3 123.6,469.5 124.6,473.8 125.7,471.6 126.7,472.7 127.8,473.8 128.8,481.2 129.9,489.6 131.0,497.0 133.1,498.1 134.1,499.1 135.2,505.5 136.9,510.8 138.4,518.2 139.4,517.1 141.1,515.4 142.6,517.1 143.7,521.4 144.7,527.7 145.8,533.0" fill="#512663"/>
<polygon points="151.0,532.6 151.4,531.0 155.0,530.8 160.0,531.0 165.0,530.6 170.0,531.0 175.0,530.8 180.0,531.0 186.0,530.7 190.0,531.0 195.0,530.8 195.5,532.6" fill="#512663"/>
<polygon points="196.8,532.6 197.2,517.8 199.0,519.5 202.3,520.8 205.0,521.5 209.2,522.0 211.5,520.5 213.8,519.6 215.5,521.0 217.3,522.0 220.0,522.5 224.2,522.4 226.5,520.8 228.8,524.2 230.0,521.0 231.2,518.5 233.0,519.5 234.6,519.6 236.0,518.5 238.0,518.5 240.0,519.5 241.5,519.6 244.0,520.0 246.2,520.8 248.0,524.0 250.8,532.6" fill="#512663"/>
<rect x="37.0" y="532.6" width="215" height="1.2" fill="#e9e3ee"/>
<rect x="35.8" y="462.0" width="1.0" height="74.2" fill="#c6b8d2"/>
<text x="33.2" y="472.8" font-size="4.5" text-anchor="end" fill="#ddd3e6" textLength="4.6" lengthAdjust="spacingAndGlyphs">15</text>
<rect x="34.1" y="470.95" width="1.5" height="0.5" fill="#ddd3e6"/>
<text x="33.2" y="493.4" font-size="4.5" text-anchor="end" fill="#ddd3e6" textLength="4.6" lengthAdjust="spacingAndGlyphs">10</text>
<rect x="34.1" y="491.55" width="1.5" height="0.5" fill="#ddd3e6"/>
<text x="33.2" y="514.0" font-size="4.5" text-anchor="end" fill="#ddd3e6" textLength="2.3" lengthAdjust="spacingAndGlyphs">5</text>
<rect x="34.1" y="512.15" width="1.5" height="0.5" fill="#ddd3e6"/>
<text x="33.2" y="534.6" font-size="4.5" text-anchor="end" fill="#ddd3e6" textLength="2.3" lengthAdjust="spacingAndGlyphs">0</text>
<rect x="34.1" y="532.75" width="1.5" height="0.5" fill="#ddd3e6"/>
<rect x="37.4" y="536.9" width="214.6" height="18.6" fill="#626f99"/>
<rect x="146.1" y="536.9" width="105.9" height="18.6" fill="#2e4a7e"/>
<rect x="37.4" y="536.9" width="214.6" height="1.1" fill="#2e4b86" opacity="0.7"/>
<rect x="37.4" y="554.4" width="214.6" height="1.1" fill="#2e4b86" opacity="0.6"/>
<text x="91.9" y="548.0" font-size="5.7" text-anchor="middle" fill="#e8ecf6" textLength="12.7" lengthAdjust="spacingAndGlyphs">TCF7</text>
<text x="208.4" y="548.0" font-size="5.7" text-anchor="middle" fill="#e8ecf6" textLength="17.6" lengthAdjust="spacingAndGlyphs">CSF1R</text>
<rect x="42.5" y="563.2" width="4.6" height="7.9" fill="#a8052d"/>
<rect x="60.6" y="563.2" width="4.6" height="7.9" fill="#a8052d"/>
<rect x="71.9" y="563.2" width="5.2" height="7.9" fill="#a8052d"/>
<rect x="135" y="563.2" width="4.0" height="7.9" fill="#a8052d"/>
<rect x="155.7" y="563.2" width="5.1" height="7.9" fill="#a8052d"/>
<rect x="170" y="563.2" width="7.0" height="7.9" fill="#a8052d"/>
<rect x="186" y="563.2" width="6.6" height="7.9" fill="#a8052d"/>
<rect x="200" y="563.2" width="10.4" height="7.9" fill="#a8052d"/>
<rect x="213" y="563.2" width="12.8" height="7.9" fill="#a8052d"/>
<text x="37.3" y="561.3" font-size="3.2" fill="#a4a4a4" textLength="24.8" lengthAdjust="spacingAndGlyphs">CTNNB1_binding</text>
<text x="67.0" y="561.3" font-size="3.2" fill="#a4a4a4" textLength="14.7" lengthAdjust="spacingAndGlyphs">HMG_box</text>
<text x="58.0" y="575.2" font-size="3.2" fill="#a4a4a4" textLength="9.5" lengthAdjust="spacingAndGlyphs">FAB15</text>
<text x="131.4" y="575.2" font-size="3.2" fill="#a4a4a4" textLength="7.5" lengthAdjust="spacingAndGlyphs">GVOW</text>
<text x="157.0" y="575.2" font-size="3.2" fill="#a4a4a4">Ig</text>
<text x="172.4" y="575.2" font-size="3.2" fill="#a4a4a4">Ig</text>
<text x="188.2" y="575.2" font-size="3.2" fill="#a4a4a4">Ig</text>
<text x="200.4" y="575.2" font-size="3.2" fill="#a4a4a4" textLength="18.5" lengthAdjust="spacingAndGlyphs">Pkinase_Tyr</text>
<rect x="37.4" y="580.6" width="214.6" height="22.1" fill="#dfe8d0"/>
<rect x="37.3" y="582.5" width="13.6" height="11.7" fill="#66a73e"/>
<rect x="59.0" y="582.5" width="21.9" height="11.7" fill="#66a73e"/>
<rect x="92.9" y="582.5" width="158.9" height="11.7" fill="#66a73e"/>
<line x1="50.9" y1="588.4" x2="59.0" y2="588.4" stroke="#b4b4b4" stroke-width="0.45"/>
<line x1="80.9" y1="588.4" x2="92.9" y2="588.4" stroke="#b4b4b4" stroke-width="0.45"/>
<rect x="63.35" y="582.5" width="0.5" height="11.7" fill="#8fc070" opacity="0.8"/>
<rect x="65.85" y="582.5" width="0.5" height="11.7" fill="#8fc070" opacity="0.8"/>
<rect x="68.15" y="582.5" width="0.5" height="11.7" fill="#8fc070" opacity="0.8"/>
<rect x="70.55" y="582.5" width="0.5" height="11.7" fill="#8fc070" opacity="0.8"/>
<rect x="74.55" y="582.5" width="0.5" height="11.7" fill="#8fc070" opacity="0.8"/>
<rect x="76.85" y="582.5" width="0.5" height="11.7" fill="#8fc070" opacity="0.8"/>
<rect x="146.15" y="582.5" width="0.5" height="11.7" fill="#8fc070" opacity="0.8"/>
<rect x="147.25" y="582.5" width="0.5" height="11.7" fill="#8fc070" opacity="0.8"/>
<rect x="149.85" y="582.5" width="0.5" height="11.7" fill="#8fc070" opacity="0.8"/>
<rect x="155.15" y="582.5" width="0.5" height="11.7" fill="#8fc070" opacity="0.8"/>
<rect x="160.85" y="582.5" width="0.5" height="11.7" fill="#8fc070" opacity="0.8"/>
<rect x="168.95" y="582.5" width="0.5" height="11.7" fill="#8fc070" opacity="0.8"/>
<rect x="170.15" y="582.5" width="0.5" height="11.7" fill="#8fc070" opacity="0.8"/>
<rect x="172.25" y="582.5" width="0.5" height="11.7" fill="#8fc070" opacity="0.8"/>
<rect x="174.55" y="582.5" width="0.5" height="11.7" fill="#8fc070" opacity="0.8"/>
<rect x="177.05" y="582.5" width="0.5" height="11.7" fill="#8fc070" opacity="0.8"/>
<rect x="179.25" y="582.5" width="0.5" height="11.7" fill="#8fc070" opacity="0.8"/>
<rect x="181.55" y="582.5" width="0.5" height="11.7" fill="#8fc070" opacity="0.8"/>
<rect x="183.35" y="582.5" width="0.5" height="11.7" fill="#8fc070" opacity="0.8"/>
<rect x="184.95" y="582.5" width="0.5" height="11.7" fill="#8fc070" opacity="0.8"/>
<rect x="187.15" y="582.5" width="0.5" height="11.7" fill="#8fc070" opacity="0.8"/>
<rect x="189.55" y="582.5" width="0.5" height="11.7" fill="#8fc070" opacity="0.8"/>
<rect x="191.25" y="582.5" width="0.5" height="11.7" fill="#8fc070" opacity="0.8"/>
<rect x="193.15" y="582.5" width="0.5" height="11.7" fill="#8fc070" opacity="0.8"/>
<rect x="194.95" y="582.5" width="0.5" height="11.7" fill="#8fc070" opacity="0.8"/>
<rect x="198.55" y="582.5" width="0.5" height="11.7" fill="#8fc070" opacity="0.8"/>
<rect x="200.25" y="582.5" width="0.5" height="11.7" fill="#8fc070" opacity="0.8"/>
<rect x="202.05" y="582.5" width="0.5" height="11.7" fill="#8fc070" opacity="0.8"/>
<rect x="203.95" y="582.5" width="0.5" height="11.7" fill="#8fc070" opacity="0.8"/>
<rect x="205.85" y="582.5" width="0.5" height="11.7" fill="#8fc070" opacity="0.8"/>
<rect x="207.75" y="582.5" width="0.5" height="11.7" fill="#8fc070" opacity="0.8"/>
<rect x="209.25" y="582.5" width="0.5" height="11.7" fill="#8fc070" opacity="0.8"/>
<rect x="210.95" y="582.5" width="0.5" height="11.7" fill="#8fc070" opacity="0.8"/>
<rect x="212.75" y="582.5" width="0.5" height="11.7" fill="#8fc070" opacity="0.8"/>
<rect x="214.35" y="582.5" width="0.5" height="11.7" fill="#8fc070" opacity="0.8"/>
<rect x="216.15" y="582.5" width="0.5" height="11.7" fill="#8fc070" opacity="0.8"/>
<rect x="217.75" y="582.5" width="0.5" height="11.7" fill="#8fc070" opacity="0.8"/>
<rect x="219.45" y="582.5" width="0.5" height="11.7" fill="#8fc070" opacity="0.8"/>
<rect x="221.25" y="582.5" width="0.5" height="11.7" fill="#8fc070" opacity="0.8"/>
<rect x="222.75" y="582.5" width="0.5" height="11.7" fill="#8fc070" opacity="0.8"/>
<rect x="224.55" y="582.5" width="0.5" height="11.7" fill="#8fc070" opacity="0.8"/>
<rect x="226.35" y="582.5" width="0.5" height="11.7" fill="#8fc070" opacity="0.8"/>
<rect x="43.70" y="588.1" width="0.6" height="0.6" fill="#e4f0dc" opacity="0.9"/>
<rect x="48.70" y="588.1" width="0.6" height="0.6" fill="#e4f0dc" opacity="0.9"/>
<rect x="61.20" y="588.1" width="0.6" height="0.6" fill="#e4f0dc" opacity="0.9"/>
<rect x="64.50" y="588.1" width="0.6" height="0.6" fill="#e4f0dc" opacity="0.9"/>
<rect x="66.90" y="588.1" width="0.6" height="0.6" fill="#e4f0dc" opacity="0.9"/>
<rect x="69.30" y="588.1" width="0.6" height="0.6" fill="#e4f0dc" opacity="0.9"/>
<rect x="72.50" y="588.1" width="0.6" height="0.6" fill="#e4f0dc" opacity="0.9"/>
<rect x="75.60" y="588.1" width="0.6" height="0.6" fill="#e4f0dc" opacity="0.9"/>
<rect x="78.70" y="588.1" width="0.6" height="0.6" fill="#e4f0dc" opacity="0.9"/>
<rect x="119.70" y="588.1" width="0.6" height="0.6" fill="#e4f0dc" opacity="0.9"/>
<rect x="152.20" y="588.1" width="0.6" height="0.6" fill="#e4f0dc" opacity="0.9"/>
<rect x="157.70" y="588.1" width="0.6" height="0.6" fill="#e4f0dc" opacity="0.9"/>
<rect x="164.70" y="588.1" width="0.6" height="0.6" fill="#e4f0dc" opacity="0.9"/>
<rect x="175.60" y="588.1" width="0.6" height="0.6" fill="#e4f0dc" opacity="0.9"/>
<rect x="180.30" y="588.1" width="0.6" height="0.6" fill="#e4f0dc" opacity="0.9"/>
<rect x="186.20" y="588.1" width="0.6" height="0.6" fill="#e4f0dc" opacity="0.9"/>
<rect x="192.10" y="588.1" width="0.6" height="0.6" fill="#e4f0dc" opacity="0.9"/>
<rect x="201.10" y="588.1" width="0.6" height="0.6" fill="#e4f0dc" opacity="0.9"/>
<rect x="206.70" y="588.1" width="0.6" height="0.6" fill="#e4f0dc" opacity="0.9"/>
<rect x="211.70" y="588.1" width="0.6" height="0.6" fill="#e4f0dc" opacity="0.9"/>
<rect x="216.90" y="588.1" width="0.6" height="0.6" fill="#e4f0dc" opacity="0.9"/>
<rect x="221.90" y="588.1" width="0.6" height="0.6" fill="#e4f0dc" opacity="0.9"/>
<rect x="240.70" y="588.1" width="0.6" height="0.6" fill="#e4f0dc" opacity="0.9"/>
<text x="99.6" y="600.1" font-size="5.0" text-anchor="middle" fill="#7a7a7a" textLength="42.2" lengthAdjust="spacingAndGlyphs">ENST00000395029.5</text>
<text x="226.0" y="600.1" font-size="5.0" text-anchor="middle" fill="#7a7a7a" textLength="41.7" lengthAdjust="spacingAndGlyphs">ENST00000286301.7</text>
<line x1="62.4" y1="461.6" x2="62.4" y2="604.6" stroke="#1e1e1e" stroke-width="0.75"/>
<line x1="196.6" y1="461.6" x2="196.6" y2="604.6" stroke="#1e1e1e" stroke-width="0.75"/>
<path d="M62.4,604.3 Q129.5,658 196.6,604.3" fill="none" stroke="#512663" stroke-width="1.3"/>
<rect x="122.1" y="626.8" width="15.8" height="10.2" fill="#512663"/>
<text x="129.9" y="634.6" font-size="7.6" font-weight="bold" text-anchor="middle" fill="#fff" stroke="#fff" stroke-width="0.1">255</text>
<polygon points="301.5,535.8 301.9,532.3 303.1,530.0 304.2,528.9 305.4,527.0 306.5,523.8 307.7,517.3 308.9,510.4 310.0,503.5 311.2,498.9 312.3,489.6 313.0,482.7 313.7,475.8 314.4,469.3 315.1,470.7 315.8,478.1 316.2,482.7 316.9,485.0 317.6,483.9 318.1,487.3 318.8,491.9 319.2,501.2 319.7,512.7 319.9,518.5 320.9,518.5 321.3,512.7 321.8,508.1 322.7,501.2 323.6,497.7 324.5,494.2 325.0,508.1 325.5,520.8 326.4,520.1 327.3,519.6 328.5,520.8 329.6,520.1 330.8,521.5 331.9,520.5 333.1,521.9 334.2,521.5 335.4,521.9 336.5,521.9 337.2,525.4 337.7,528.9 339.3,529.3 341.2,530.0 342.3,528.4 343.5,528.4 344.2,524.2 344.9,520.8 345.3,517.8 346.2,518.5 347.2,520.8 347.6,524.2 348.1,529.3 349.2,530.0 350.4,528.4 352.2,528.4 353.2,528.9 354.5,529.3 355.5,531.2 356.2,534.6 358.5,534.6 360.8,533.9 361.9,533.5 363.1,531.2 364.2,528.9 365.4,526.5 366.5,524.2 367.7,521.9 368.4,516.2 368.9,512.7 369.3,511.5 370.2,512.7 370.9,516.2 371.4,521.9 371.9,528.9 372.5,525.4 373.5,523.1 374.6,521.9 376.2,521.5 377.2,520.8 378.1,519.6 379.2,517.3 379.9,510.4 380.9,501.2 381.6,495.9 382.2,496.1 382.9,498.9 383.4,510.4 383.9,524.2 384.6,529.3 385.5,530.7 386.9,531.6 388.0,534.6 389.2,534.6 390.1,532.3 391.0,528.4 391.9,527.7 392.9,528.4 393.8,531.2 395.2,531.2 396.6,531.2 398.4,531.2 400.0,530.0 401.2,526.5 402.3,524.2 403.5,523.1 405.3,523.1 406.2,524.2 407.2,528.9 409.2,530.0 411.6,530.0 413.2,530.0 414.1,523.1 414.6,520.8 415.0,521.5 416.6,522.7 417.7,534.3 419.4,536.2" fill="#512663"/>
<polygon points="427.6,536.2 427.8,514.2 429.3,518.5 430.4,514.0 431.4,511.0 432.5,507.0 433.6,504.7 434.7,500.0 435.7,495.2 436.8,494.0 437.8,493.0 438.9,497.0 439.9,500.5 441.0,505.0 442.0,509.0 443.0,514.0 444.1,518.5 445.2,516.0 446.3,514.2 447.4,517.0 448.4,518.5 450.5,517.4 451.6,520.0 452.6,522.7 454.7,524.8 456.8,528.0 458.2,532.0 459.6,535.4 460.8,531.0 462.1,527.0 463.2,521.0 464.2,516.4 465.3,508.0 466.3,502.6 467.2,504.0 468.0,506.8 468.8,512.0 469.5,518.5 471.6,518.5 472.7,521.0 473.8,522.7 475.9,527.0 478.0,529.0 479.0,526.0 480.1,522.7 481.2,516.0 482.2,510.0 483.3,500.0 484.3,491.0 485.4,483.6 486.2,488.0 487.1,494.1 487.8,503.0 488.6,512.1 489.6,522.0 490.7,532.2 491.7,516.4 492.8,514.0 493.9,512.1 495.0,502.0 496.0,493.0 497.0,480.0 498.1,469.8 499.1,474.0 500.2,486.0 501.3,497.3 502.4,500.0 503.4,503.7 504.5,507.0 505.5,510.0 506.6,515.0 507.6,520.6 508.6,526.0 509.7,531.2 511.8,536.2" fill="#512663"/>
<rect x="298.8" y="536.3" width="213.6" height="1.2" fill="#e9e3ee"/>
<rect x="297.3" y="462.0" width="1.0" height="76.0" fill="#c6b8d2"/>
<text x="294.6" y="478.1" font-size="4.5" text-anchor="end" fill="#ddd3e6" textLength="2.3" lengthAdjust="spacingAndGlyphs">5</text>
<rect x="295.5" y="476.25" width="1.5" height="0.5" fill="#ddd3e6"/>
<text x="294.6" y="489.4" font-size="4.5" text-anchor="end" fill="#ddd3e6" textLength="2.3" lengthAdjust="spacingAndGlyphs">4</text>
<rect x="295.5" y="487.55" width="1.5" height="0.5" fill="#ddd3e6"/>
<text x="294.6" y="500.6" font-size="4.5" text-anchor="end" fill="#ddd3e6" textLength="2.3" lengthAdjust="spacingAndGlyphs">3</text>
<rect x="295.5" y="498.75" width="1.5" height="0.5" fill="#ddd3e6"/>
<text x="294.6" y="511.9" font-size="4.5" text-anchor="end" fill="#ddd3e6" textLength="2.3" lengthAdjust="spacingAndGlyphs">2</text>
<rect x="295.5" y="510.05" width="1.5" height="0.5" fill="#ddd3e6"/>
<text x="294.6" y="523.2" font-size="4.5" text-anchor="end" fill="#ddd3e6" textLength="2.3" lengthAdjust="spacingAndGlyphs">1</text>
<rect x="295.5" y="521.35" width="1.5" height="0.5" fill="#ddd3e6"/>
<text x="294.6" y="534.5" font-size="4.5" text-anchor="end" fill="#ddd3e6" textLength="2.3" lengthAdjust="spacingAndGlyphs">0</text>
<rect x="295.5" y="532.65" width="1.5" height="0.5" fill="#ddd3e6"/>
<rect x="299.2" y="540.0" width="213.2" height="18.5" fill="#626f99"/>
<rect x="421.3" y="540.0" width="91.1" height="18.5" fill="#2e4a7e"/>
<rect x="299.2" y="540.0" width="213.2" height="1.1" fill="#2e4b86" opacity="0.7"/>
<rect x="299.2" y="557.4" width="213.2" height="1.1" fill="#2e4b86" opacity="0.6"/>
<text x="360.2" y="551.0" font-size="5.7" text-anchor="middle" fill="#e8ecf6" textLength="12.9" lengthAdjust="spacingAndGlyphs">ETV6</text>
<text x="467.0" y="551.0" font-size="5.7" text-anchor="middle" fill="#e8ecf6" textLength="11.9" lengthAdjust="spacingAndGlyphs">CRX</text>
<rect x="306.9" y="564.0" width="5.4" height="8.9" fill="#a8052d"/>
<rect x="314.8" y="564.0" width="7.7" height="8.9" fill="#a8052d"/>
<rect x="428" y="564.0" width="2.9" height="8.9" fill="#a8052d"/>
<rect x="435.7" y="564.0" width="3.6" height="8.9" fill="#a8052d"/>
<rect x="453.7" y="564.0" width="2.9" height="8.9" fill="#a8052d"/>
<rect x="461" y="564.0" width="1.6" height="8.9" fill="#a8052d"/>
<rect x="494" y="564.0" width="3.0" height="8.9" fill="#a8052d"/>
<text x="302.2" y="562.7" font-size="3.2" fill="#a4a4a4" textLength="14.5" lengthAdjust="spacingAndGlyphs">SAM_PNT</text>
<text x="314.6" y="577.4" font-size="3.2" fill="#a4a4a4" textLength="8.1" lengthAdjust="spacingAndGlyphs">ETS</text>
<text x="432.8" y="562.4" font-size="3.2" fill="#a4a4a4" textLength="10.4" lengthAdjust="spacingAndGlyphs">TF_Otx</text>
<text x="456.2" y="562.4" font-size="3.2" fill="#a4a4a4" textLength="10.6" lengthAdjust="spacingAndGlyphs">GVOW</text>
<text x="422.5" y="577.4" font-size="3.2" fill="#a4a4a4" textLength="14.4" lengthAdjust="spacingAndGlyphs">Homeobox</text>
<text x="450.2" y="577.4" font-size="3.2" fill="#a4a4a4" textLength="9.8" lengthAdjust="spacingAndGlyphs">GVOW</text>
<text x="490.0" y="577.4" font-size="3.2" fill="#a4a4a4" textLength="10.4" lengthAdjust="spacingAndGlyphs">GVOW</text>
<rect x="299.2" y="584.3" width="213.2" height="21.5" fill="#dfe8d0"/>
<rect x="299.2" y="585.6" width="213.2" height="12.2" fill="#66a73e"/>
<rect x="305.75" y="585.6" width="0.5" height="12.2" fill="#8fc070" opacity="0.8"/>
<rect x="307.25" y="585.6" width="0.5" height="12.2" fill="#8fc070" opacity="0.8"/>
<rect x="309.55" y="585.6" width="0.5" height="12.2" fill="#8fc070" opacity="0.8"/>
<rect x="311.75" y="585.6" width="0.5" height="12.2" fill="#8fc070" opacity="0.8"/>
<rect x="313.75" y="585.6" width="0.5" height="12.2" fill="#8fc070" opacity="0.8"/>
<rect x="327.05" y="585.6" width="0.5" height="12.2" fill="#8fc070" opacity="0.8"/>
<rect x="329.95" y="585.6" width="0.5" height="12.2" fill="#8fc070" opacity="0.8"/>
<rect x="426.25" y="585.6" width="0.5" height="12.2" fill="#8fc070" opacity="0.8"/>
<rect x="428.55" y="585.6" width="0.5" height="12.2" fill="#8fc070" opacity="0.8"/>
<rect x="302.20" y="591.4" width="0.6" height="0.6" fill="#e4f0dc" opacity="0.9"/>
<rect x="304.70" y="591.4" width="0.6" height="0.6" fill="#e4f0dc" opacity="0.9"/>
<rect x="306.70" y="591.4" width="0.6" height="0.6" fill="#e4f0dc" opacity="0.9"/>
<rect x="308.20" y="591.4" width="0.6" height="0.6" fill="#e4f0dc" opacity="0.9"/>
<rect x="310.50" y="591.4" width="0.6" height="0.6" fill="#e4f0dc" opacity="0.9"/>
<rect x="319.20" y="591.4" width="0.6" height="0.6" fill="#e4f0dc" opacity="0.9"/>
<rect x="328.20" y="591.4" width="0.6" height="0.6" fill="#e4f0dc" opacity="0.9"/>
<rect x="329.20" y="591.4" width="0.6" height="0.6" fill="#e4f0dc" opacity="0.9"/>
<rect x="345.70" y="591.4" width="0.6" height="0.6" fill="#e4f0dc" opacity="0.9"/>
<rect x="402.70" y="591.4" width="0.6" height="0.6" fill="#e4f0dc" opacity="0.9"/>
<rect x="431.70" y="591.4" width="0.6" height="0.6" fill="#e4f0dc" opacity="0.9"/>
<rect x="433.70" y="591.4" width="0.6" height="0.6" fill="#e4f0dc" opacity="0.9"/>
<rect x="435.70" y="591.4" width="0.6" height="0.6" fill="#e4f0dc" opacity="0.9"/>
<rect x="473.70" y="591.4" width="0.6" height="0.6" fill="#e4f0dc" opacity="0.9"/>
<text x="357.2" y="603.7" font-size="5.0" text-anchor="middle" fill="#7a7a7a" textLength="42" lengthAdjust="spacingAndGlyphs">ENST00000396373.8</text>
<text x="465.0" y="603.7" font-size="5.0" text-anchor="middle" fill="#7a7a7a" textLength="44" lengthAdjust="spacingAndGlyphs">ENST00000221996.11</text>
<line x1="325.2" y1="461.6" x2="325.2" y2="608.2" stroke="#1e1e1e" stroke-width="0.75"/>
<line x1="427.5" y1="461.6" x2="427.5" y2="608.2" stroke="#1e1e1e" stroke-width="0.75"/>
<line x1="430.3" y1="461.6" x2="430.3" y2="608.2" stroke="#1e1e1e" stroke-width="0.75"/>
<path d="M324.8,608 Q376.4,635 428,608" fill="none" stroke="#8a6ea2" stroke-width="0.85"/>
<path d="M324.8,608 Q376.4,662 428,608" fill="none" stroke="#512663" stroke-width="1.3"/>
<rect x="368.5" y="616.6" width="15.8" height="9.9" fill="#512663"/>
<text x="376.4" y="624.2" font-size="7.9" font-weight="bold" text-anchor="middle" fill="#fff" stroke="#fff" stroke-width="0.12">8</text>
<rect x="368.5" y="630.0" width="15.8" height="9.7" fill="#512663"/>
<text x="376.2" y="637.6" font-size="7.9" font-weight="bold" text-anchor="middle" fill="#fff" stroke="#fff" stroke-width="0.12" textLength="9.2" lengthAdjust="spacingAndGlyphs">82</text>
<rect x="0.6" y="0.6" width="518.8" height="645.8" fill="none" stroke="#000" stroke-width="1.3"/>
</svg>
</body></html>
